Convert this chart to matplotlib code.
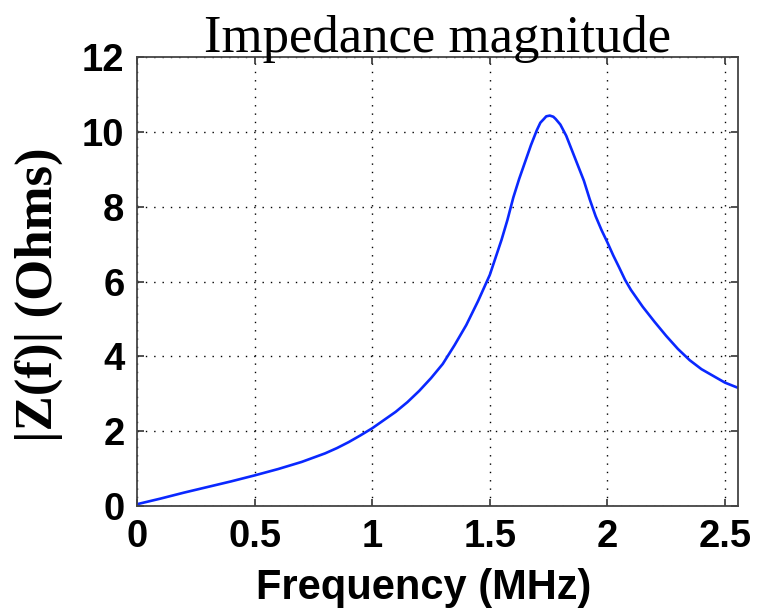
import numpy as np
import matplotlib
matplotlib.use("Agg")
import matplotlib.pyplot as plt

# frequency (MHz) and impedance magnitude (Ohms)
freq = [0.0, 0.1, 0.2, 0.3, 0.4, 0.5, 0.6, 0.7, 0.8, 0.85, 0.9, 0.95, 1.0,
        1.1, 1.15, 1.2, 1.25, 1.3, 1.35, 1.4, 1.45, 1.5, 1.525, 1.55, 1.575,
        1.6, 1.625, 1.65, 1.675, 1.7, 1.715, 1.73, 1.74, 1.755, 1.77, 1.78,
        1.8, 1.825, 1.85, 1.875, 1.9, 1.925, 1.95, 1.975, 2.0, 2.025, 2.05,
        2.075, 2.1, 2.15, 2.2, 2.25, 2.3, 2.35, 2.4, 2.45, 2.5, 2.556]
zmag = [0.05, 0.2, 0.36, 0.51, 0.66, 0.82, 0.99, 1.18, 1.41, 1.55, 1.71,
        1.89, 2.08, 2.52, 2.78, 3.08, 3.42, 3.8, 4.3, 4.84, 5.48, 6.18, 6.65,
        7.12, 7.65, 8.25, 8.75, 9.2, 9.65, 10.05, 10.25, 10.35, 10.42, 10.44,
        10.41, 10.35, 10.2, 9.9, 9.5, 9.1, 8.7, 8.2, 7.75, 7.38, 7.05, 6.7,
        6.38, 6.05, 5.78, 5.33, 4.93, 4.55, 4.2, 3.9, 3.66, 3.48, 3.3, 3.16]

xticks = [0, 0.5, 1, 1.5, 2, 2.5]
xtick_labels = ["0", "0.5", "1", "1.5", "2", "2.5"]
yticks = [0, 2, 4, 6, 8, 10, 12]

sans = ["Liberation Sans", "DejaVu Sans"]
serif = ["Liberation Serif", "DejaVu Serif"]

fig = plt.figure(figsize=(7.61, 6.09), dpi=100)
ax = fig.add_axes([0.180, 0.169, 0.790, 0.737])

ax.plot(freq, zmag, color="#0a28ff", linewidth=1.9)

ax.set_xlim(0, 2.556)
ax.set_ylim(0, 12)
ax.set_xticks(xticks)
ax.set_xticklabels(xtick_labels)
ax.set_yticks(yticks)

# matlab style box, inward ticks and dotted grid
ax.grid(True, color="black", linestyle=(0, (1, 5)), linewidth=1.0)
ax.tick_params(direction="in", length=5, width=1.2, top=True, right=True,
               color="#333333", pad=9)
for lab in ax.get_xticklabels() + ax.get_yticklabels():
    lab.set_family(sans)
    lab.set_fontweight("bold")
    lab.set_fontsize(27.5)
for sp in ax.spines.values():
    sp.set_color("#444444")
    sp.set_linewidth(1.3)

ax.set_xlabel("Frequency (MHz)", family=sans, fontweight="bold", fontsize=30)
ax.set_ylabel("|Z(f)| (Ohms)", family=serif, fontweight="bold", fontsize=38)
ax.xaxis.set_label_coords(0.477, -0.138)
ax.yaxis.set_label_coords(-0.163, 0.47)
ax.yaxis.label.set_verticalalignment("center")
ax.set_title("Impedance magnitude", family=serif, fontsize=38, pad=4)

fig.savefig("out.png", dpi=100)
